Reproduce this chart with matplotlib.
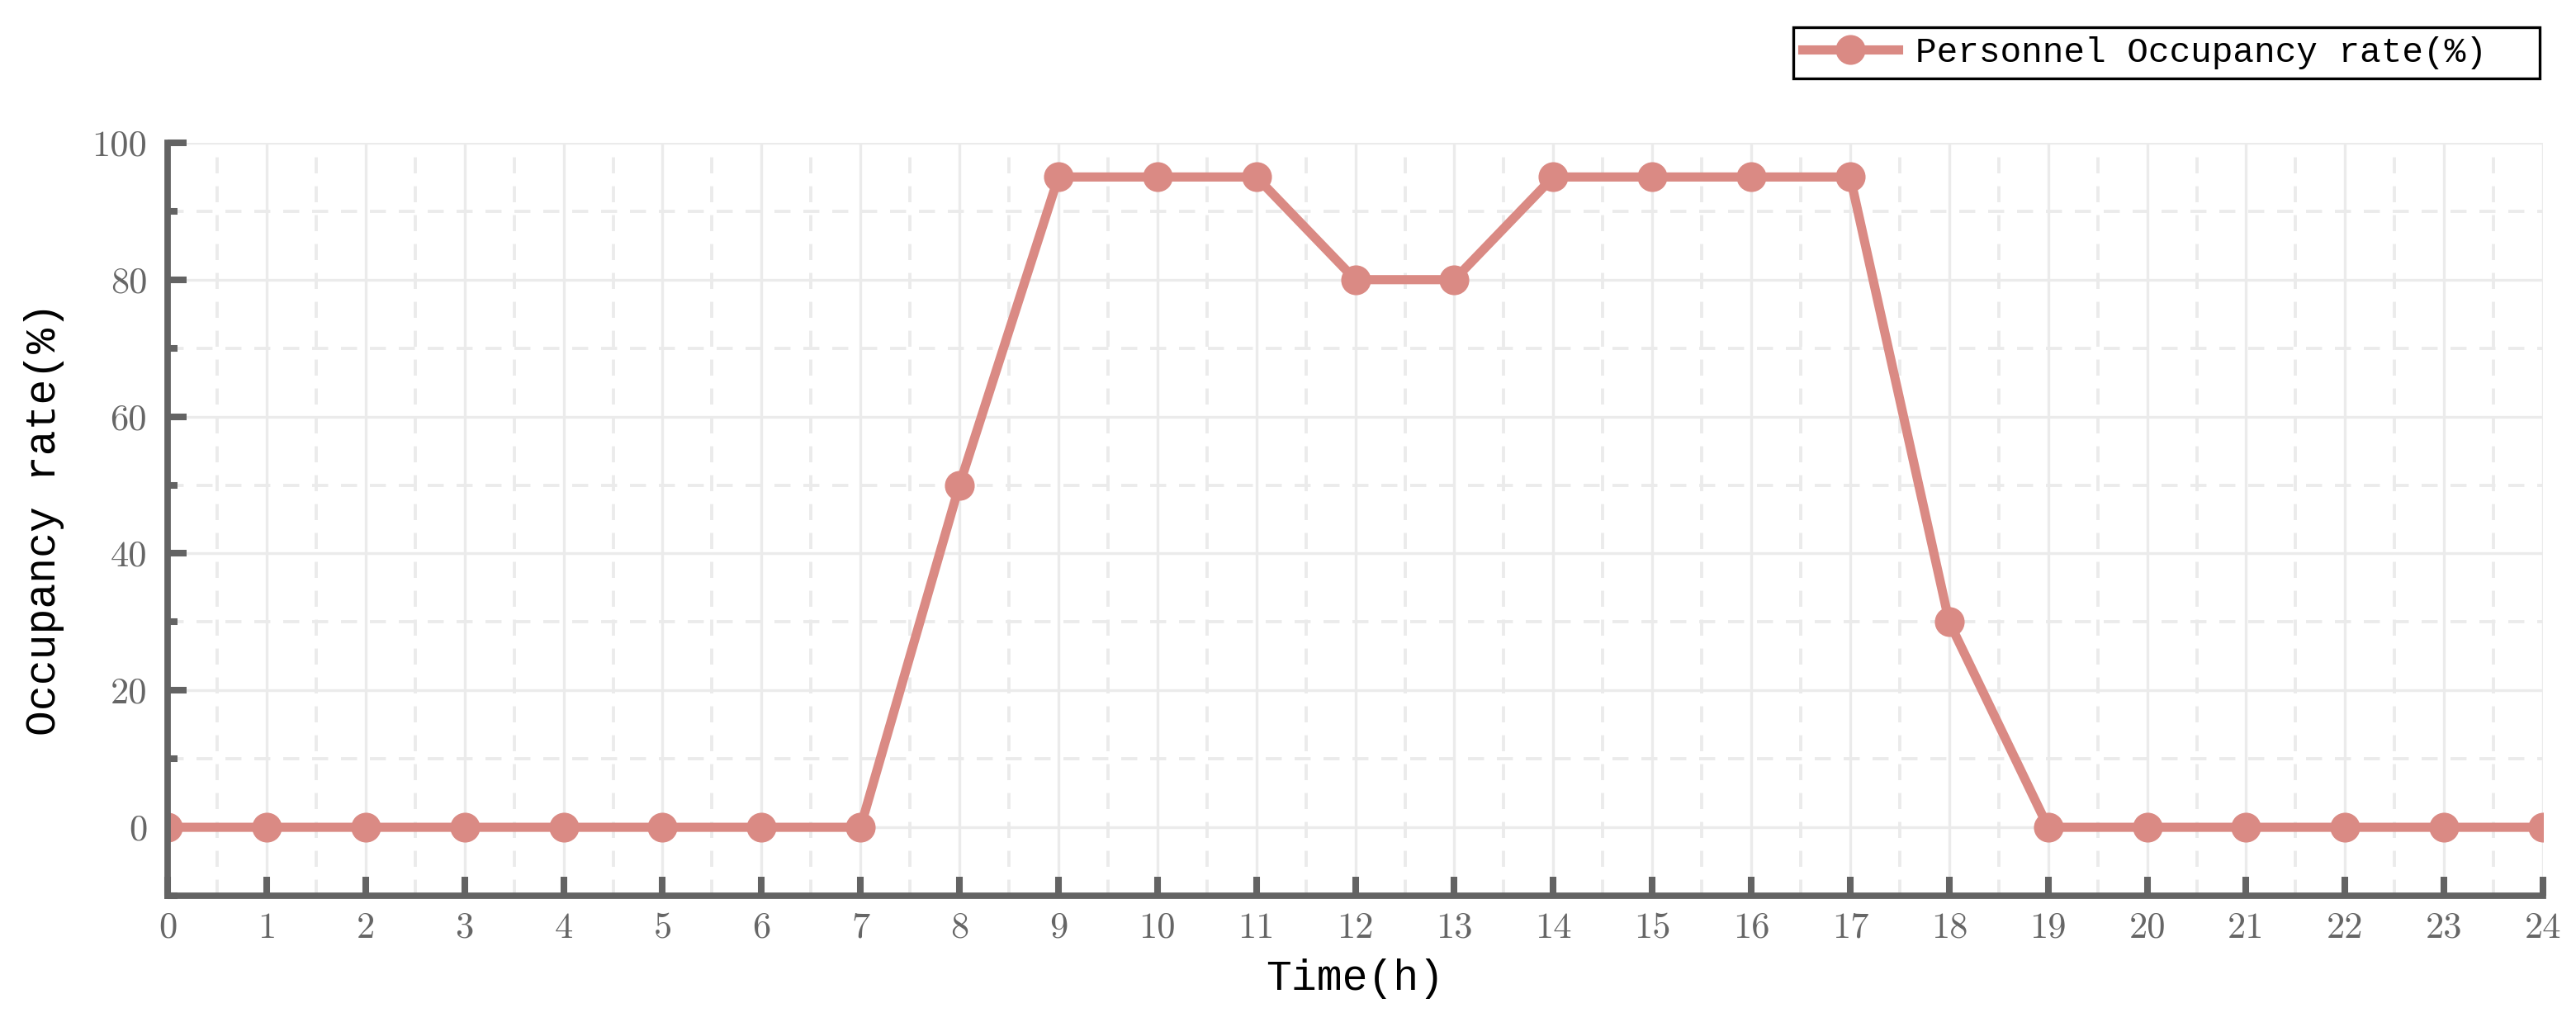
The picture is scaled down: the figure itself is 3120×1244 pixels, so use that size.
import matplotlib
matplotlib.use("Agg")
import matplotlib.pyplot as plt
from matplotlib.ticker import MultipleLocator, FixedLocator

hours = list(range(0, 25))
occupancy = [0, 0, 0, 0, 0, 0, 0, 0, 50, 95, 95, 95, 80, 80, 95, 95, 95, 95, 30, 0, 0, 0, 0, 0, 0]
series_label = "Personnel Occupancy rate(%)"
x_label = "Time(h)"
y_label = "Occupancy rate(%)"
y_ticks = [0, 20, 40, 60, 80, 100]

line_color = "#DA8A84"
spine_color = "#636363"
grid_color = "#EBEBEB"
label_font = "Liberation Mono"

fig = plt.figure(figsize=(15.6, 6.22), dpi=200)
ax = fig.add_axes([0.0651, 0.1278, 0.9872 - 0.0651, 0.861 - 0.1278])

ax.plot(hours, occupancy, color=line_color, lw=4, marker="o", ms=12,
        label=series_label, zorder=3)

ax.set_xlim(0, 24)
ax.set_ylim(-10, 100)
ax.xaxis.set_major_locator(MultipleLocator(1))
ax.xaxis.set_minor_locator(MultipleLocator(0.5))
ax.yaxis.set_major_locator(FixedLocator(y_ticks))
ax.yaxis.set_minor_locator(FixedLocator([-10, 10, 30, 50, 70, 90]))

ax.grid(which="major", color=grid_color, lw=1.2, ls="-")
ax.grid(which="minor", color=grid_color, lw=1.4, ls=(0, (5, 4)))
ax.set_axisbelow(True)

for s in ["top", "right"]:
    ax.spines[s].set_visible(False)
for s in ["left", "bottom"]:
    ax.spines[s].set_color(spine_color)
    ax.spines[s].set_linewidth(2.8)
    ax.spines[s].set_zorder(4)

ax.tick_params(which="major", direction="in", length=8.4, width=2.9,
               color=spine_color, labelcolor="#666666", labelsize=16)
ax.tick_params(axis="x", which="major", pad=7)
ax.tick_params(axis="y", which="major", pad=9)
ax.tick_params(axis="y", which="minor", direction="in", length=4.2, width=2.9,
               color=spine_color)
ax.tick_params(axis="x", which="minor", length=0)

for lab in ax.get_xticklabels() + ax.get_yticklabels():
    lab.set_fontfamily("cmr10")

ax.set_xlabel(x_label, fontfamily=label_font, fontsize=18.5, labelpad=6)
ax.set_ylabel(y_label, fontfamily=label_font, fontsize=18.5, labelpad=12)

leg_top = 1 - 33 / 1244
leg_h = 68 / 1244
leg = fig.legend(loc="upper left",
                 bbox_to_anchor=(2172 / 3120, leg_top - leg_h, 904 / 3120, leg_h),
                 mode="expand",
                 prop={"family": label_font, "size": 15.4},
                 frameon=True, fancybox=False, edgecolor="black",
                 framealpha=1, borderpad=0.26, handlelength=2.7,
                 handletextpad=0.5, borderaxespad=0)
leg.get_frame().set_linewidth(1.2)

fig.savefig("out.png", dpi=200)
